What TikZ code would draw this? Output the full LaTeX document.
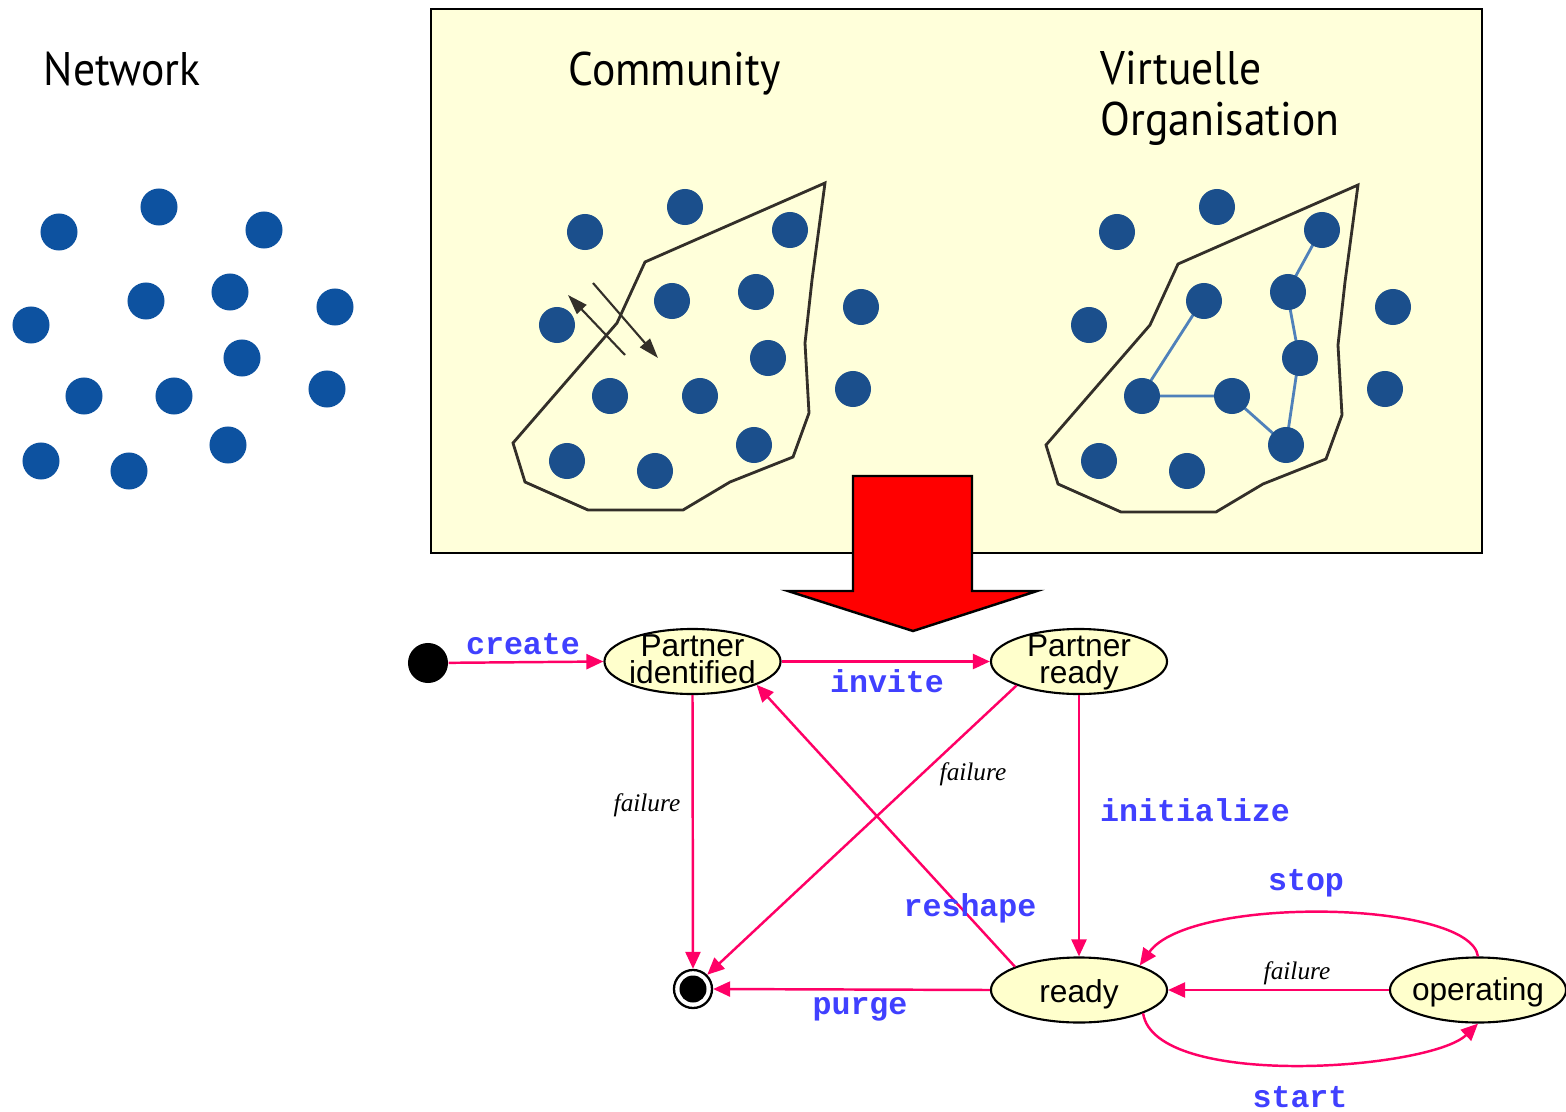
\documentclass[tikz,border=0pt]{standalone}
\usepackage{fontspec}
\usepackage{graphicx}
\setmainfont{Liberation Serif}
\newfontfamily\helv{Liberation Sans}
\newfontfamily\cour{Liberation Mono}
\newfontfamily\titlefont{PT Sans}
\usetikzlibrary{shapes.geometric,arrows.meta}
\definecolor{pinkline}{HTML}{FF0066}
\definecolor{lblblue}{HTML}{4040FF}
\definecolor{dotblue}{HTML}{0D52A0}
\definecolor{boxdot}{HTML}{1B4F8C}
\definecolor{boxfill}{HTML}{FFFFDA}
\definecolor{statefill}{HTML}{FFFFCC}
\definecolor{linkblue}{HTML}{4F81BA}
\newcommand\mytitle[1]{\scalebox{0.925}[1]{#1}}
\def\dotlist{59/232, 159/207, 264/230, 31/325, 146/301, 230/292, 335/307, 242/358, 84/396, 174/396, 327/389, 41/461, 129/471, 228/445}
\begin{document}
\begin{tikzpicture}[x=0.01cm,y=-0.01cm,
  state/.style={ellipse, draw=black, line width=0.6pt, fill=statefill, minimum width=1.76cm, minimum height=0.65cm, inner sep=0pt},
  stxt/.style={font=\helv\fontsize{9}{7.7}\selectfont, align=center, inner sep=0pt},
  trans/.style={draw=pinkline, line width=0.7pt, -{Triangle[length=0.17cm,width=0.15cm]}},
  act/.style={font=\cour\bfseries\fontsize{9}{9}\selectfont, text=lblblue, inner sep=0pt, anchor=base},
  fail/.style={font=\itshape\fontsize{7.2}{7.2}\selectfont, inner sep=0pt, anchor=base},
  title/.style={font=\titlefont\fontsize{13.4}{16}\selectfont, inner sep=0pt, anchor=base west},
  hull/.style={line width=0.8pt, draw=black!85!olive},
  crossarrow/.style={line width=0.6pt, draw=black!85!olive, -{Triangle[length=0.2cm,width=0.13cm]}},
]
\useasboundingbox (0,0) rectangle (1566,1112);

% left network
\node[title] (tnet) at (43,85) {\mytitle{Network}};
\foreach \a/\b in \dotlist { \fill[dotblue] (\a,\b) circle[radius=0.185cm]; }

% yellow box
\draw[line width=0.6pt, fill=boxfill] (431,9) rectangle (1482,553);
\node[title] (tcom) at (568,85) {\mytitle{Community}};
\node[title] (tvir) at (1100,84) {\mytitle{Virtuelle}};
\node[title] (torg) at (1100,135) {\mytitle{Organisation}};

% community hull
\draw[hull] (825,183) -- (812,280) -- (805,343) -- (809,413) -- (793,457) -- (730,482) -- (683,510) -- (588,510) -- (525,482) -- (513,443) -- (617,323) -- (645,262) -- cycle;
\begin{scope}[shift={(533,2)}]
\draw[hull] (825,183) -- (812,280) -- (805,343) -- (809,413) -- (793,457) -- (730,482) -- (683,510) -- (588,510) -- (525,482) -- (513,443) -- (617,323) -- (645,262) -- cycle;
\end{scope}
\draw[linkblue, line width=0.8pt] (1202,301) -- (1141,396) -- (1231,396) -- (1286,445) -- (1299,357) -- (1287,292) -- (1321,230);
\foreach \a/\b in \dotlist {
  \fill[boxdot] (\a+526,\b) circle[radius=0.18cm];
  \fill[boxdot] (\a+1058,\b) circle[radius=0.18cm];
}
\draw[crossarrow] (625,355) -- (568,295);
\draw[crossarrow] (593,283) -- (658,358);

% big red arrow
\draw[line width=0.7pt, fill=red] (853,476) -- (972,476) -- (972,591) -- (1037,591) -- (913,631) -- (788,591) -- (853,591) -- cycle;

% state machine
\node[circle, fill=black, minimum size=0.4cm, inner sep=0pt] (init) at (428,663) {};
\node[circle, draw=black, line width=0.65pt, fill=white, minimum size=0.38cm, inner sep=0pt] (fin) at (693,989) {};
\node[circle, fill=black, minimum size=0.27cm, inner sep=0pt] (fincore) at (fin.center) {};

\node[state] (pid) at (692.5,661.5) {};
\node[stxt] (pidt) at ([yshift=0.025cm]pid.center) {Partner\\identified};
\node[state] (pr) at (1079,661.5) {};
\node[stxt] (prt) at ([yshift=-0.008cm]pr.center) {Partner\\ready};
\node[state] (ready) at (1079,990) {};
\node[stxt] (readyt) at ([yshift=-0.04cm]ready.center) {ready};
\node[state] (op) at (1478,990) {};
\node[stxt] (opt) at ([yshift=-0.02cm]op.center) {operating};

\draw[trans] (init) -- (pid.west);
\draw[trans] (pid.east) -- (pr.west);
\draw[trans] (pid.south) -- (fin.north);
\draw[trans] (pr.201) -- (fin.45);
\draw[trans] (pr.south) -- (ready.north);
\draw[trans] (ready.160) -- (pid.-20);
\draw[trans] (ready.west) -- (fin.east);
\draw[trans] (op.west) -- (ready.east);
\draw[trans] (op.north) .. controls (1470,900) and (1190,895) .. (ready.22);
\draw[trans] (ready.-20) .. controls (1155,1090) and (1430,1070) .. (op.south);

\node[act] (lcreate) at (523,654) {create};
\node[act] (linvite) at (887,692) {invite};
\node[act] (linit) at (1195,821) {initialize};
\node[act] (lreshape) at (970,916) {reshape};
\node[act] (lpurge) at (860,1014) {purge};
\node[act] (lstop) at (1306,890) {stop};
\node[act] (lstart) at (1300,1107) {start};
\node[fail] (f1) at (647,811) {failure};
\node[fail] (f2) at (973,780) {failure};
\node[fail] (f3) at (1297,979) {failure};
\end{tikzpicture}
\end{document}
